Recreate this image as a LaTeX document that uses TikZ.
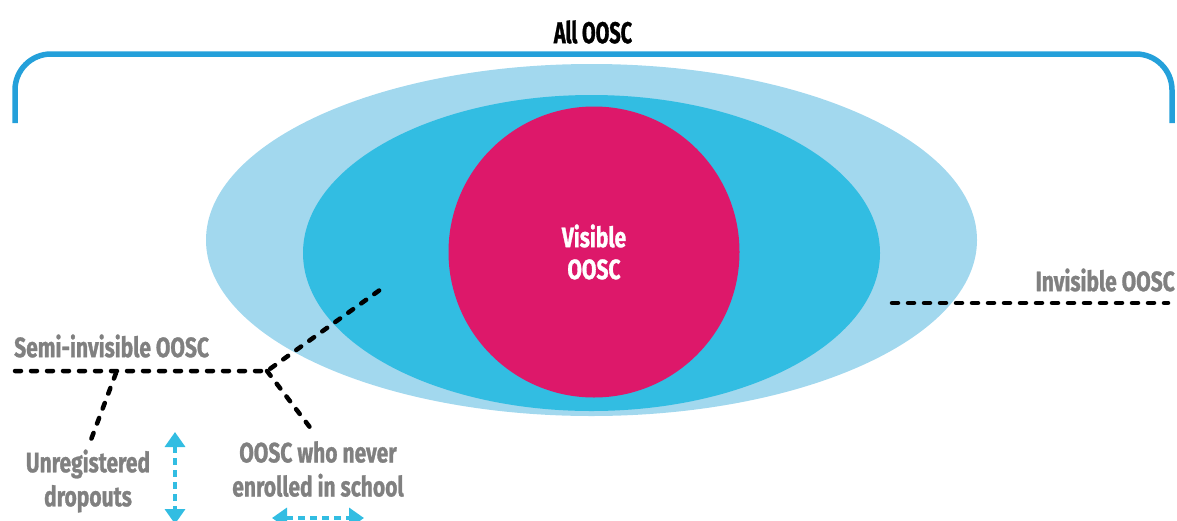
\documentclass[tikz,border=0pt]{standalone}
\usepackage{fontspec}
\setmainfont{Fira Sans}[FakeStretch=0.75,BoldFeatures={FakeBold=1}]
\newfontfamily\headfont{Fira Sans}[FakeStretch=0.66,BoldFeatures={FakeBold=1}]
\usepackage{xcolor}
\usetikzlibrary{shapes.geometric,arrows.meta}
\definecolor{olight}{RGB}{162,216,238}
\definecolor{omid}{RGB}{50,189,226}
\definecolor{opink}{RGB}{221,24,106}
\definecolor{obrack}{RGB}{36,160,218}
\definecolor{ogray}{RGB}{128,128,128}

\begin{document}
\begin{tikzpicture}[x=1pt,y=-1pt]
  \tikzset{zone/.style={ellipse,fill=#1,inner sep=0pt},
    leader/.style={black,line width=4.5pt,line cap=round,dash pattern=on 6pt off 10pt},
    span/.style={omid,line width=3.5pt,dash pattern=on 7pt off 5pt,{Triangle[width=20pt,length=15pt]}-{Triangle[width=20pt,length=15pt]}},
    tag/.style={text=ogray,font=\bfseries\fontsize{28}{34}\selectfont,inner sep=0pt,align=center}}
  \useasboundingbox (0,0) rectangle (1177,520);
  \clip (0,0) rectangle (1177,520);

  \node [zone=olight,minimum width=771pt,minimum height=352pt] (outer) at (591.5,240) {}; % invisible
  \node [zone=omid,minimum width=577pt,minimum height=316pt] (middle) at (591.5,253) {}; % semi-invisible
  \node [circle,fill=opink,minimum size=291pt,inner sep=0pt,text=white,align=center,
    font=\bfseries\fontsize{28}{32}\selectfont] (visible) at (594,252) {Visible\\OOSC}; % visible

  \draw [obrack,line width=5.5pt,rounded corners=36pt] (15,123) -- (15,54) -- (1172,54) -- (1172,123);
  \node [font=\headfont\bfseries\fontsize{30}{32}\selectfont,inner sep=0pt] (all) at (593,32) {All OOSC};

  \node [tag,anchor=east] (invis) at (1175,280) {Invisible OOSC};
  \coordinate (invisL) at (892,303);
  \coordinate (invisR) at (1168,303);
  \draw [leader] (invisL) -- (invisR);

  \node [tag,anchor=west] (semi) at (14,346) {Semi-invisible OOSC};
  \coordinate (semiL) at (15,371);
  \coordinate (fork) at (267,371);
  \coordinate (semiU) at (384,287);
  \coordinate (dropA) at (116,373);
  \coordinate (dropB) at (89,445);
  \coordinate (neverB) at (312,430);
  \draw [leader] (semiL) -- (fork) -- (semiU);
  \draw [leader] (fork) -- (neverB);
  \draw [leader] (dropA) -- (dropB);

  \node [tag] (drop) at (88,481) {Unregistered\\dropouts};
  \node [tag] (never) at (318,469) {OOSC who never\\enrolled in school};

  \coordinate (vtop) at (175,432);
  \coordinate (vbot) at (175,524);
  \coordinate (hl) at (272,518);
  \coordinate (hr) at (364,518);
  \draw [span] (vtop) -- (vbot);
  \draw [span] (hl) -- (hr);
\end{tikzpicture}
\end{document}
